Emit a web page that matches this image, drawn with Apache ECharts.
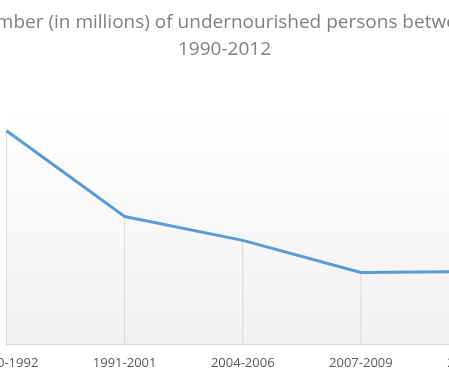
<!DOCTYPE html>
<html>
<head>
<meta charset="utf-8">
<script src="https://cdn.jsdelivr.net/npm/echarts@6/dist/echarts.min.js"></script>
<style>
  html, body { margin: 0; padding: 0; background: #fff; }
  #main { width: 449px; height: 375px; }
</style>
</head>
<body>
<div id="main"></div>
<script>
// periods and undernourished persons (millions)
var periods = ['1990-1992', '1991-2001', '2004-2006', '2007-2009', '2010-2012'];
var persons = [979, 907, 887, 860, 861];

var chart = echarts.init(document.getElementById('main'));

var option = {
  backgroundColor: '#ffffff',
  title: {
    text: 'Number (in millions) of undernourished persons between\n1990-2012',
    left: 'center',
    top: 4,
    textStyle: {
      fontFamily: 'Open Sans',
      fontSize: 19,
      fontWeight: 'normal',
      color: '#808080',
      lineHeight: 27
    }
  },
  grid: {
    left: 6.5,
    right: -30,
    top: 70,
    bottom: 31,
    containLabel: false,
    outerBoundsMode: 'none',
    show: true,
    borderWidth: 0,
    backgroundColor: {
      type: 'linear', x: 0, y: 0, x2: 0, y2: 1,
      colorStops: [
        { offset: 0, color: '#ffffff' },
        { offset: 0.15, color: '#ffffff' },
        { offset: 1, color: '#f1f1f1' }
      ]
    }
  },
  xAxis: {
    type: 'category',
    data: periods,
    boundaryGap: false,
    axisLine: { lineStyle: { color: '#d9d9d9', width: 1 } },
    axisTick: { show: false },
    axisLabel: {
      color: '#595959',
      fontFamily: 'Open Sans',
      fontSize: 13,
      margin: 13,
      interval: 0,
      hideOverlap: false
    },
    splitLine: { show: false }
  },
  yAxis: {
    type: 'value',
    min: 800,
    max: 1030,
    show: false,
    splitLine: { show: false }
  },
  series: [
    {
      // drop lines from each point to the axis
      type: 'bar',
      data: persons,
      barWidth: 1,
      itemStyle: { color: '#d9d9d9' },
      silent: true,
      z: 1
    },
    {
      type: 'line',
      data: persons,
      symbol: 'none',
      lineStyle: { color: '#5b9bd5', width: 3 },
      z: 3
    }
  ]
};

chart.setOption(option);
</script>
</body>
</html>
